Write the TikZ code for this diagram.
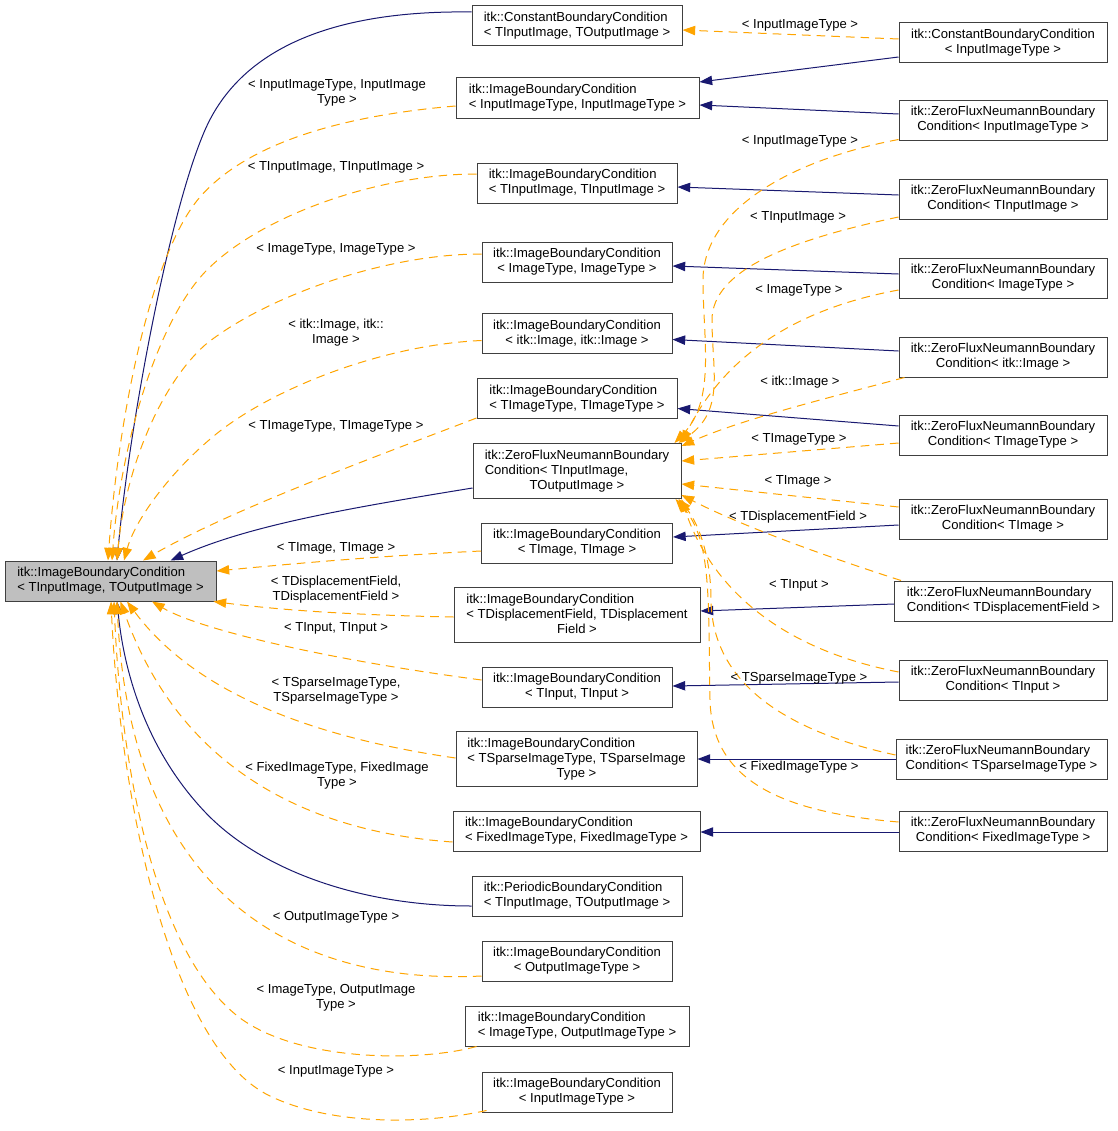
\documentclass[tikz,border=0pt]{standalone}
\usepackage{fontspec}
\setmainfont{Liberation Sans}
\usetikzlibrary{arrows.meta,calc}
\definecolor{navyc}{HTML}{191970}
\definecolor{orangec}{HTML}{FFA500}
\definecolor{boxline}{HTML}{404040}
\definecolor{rootfill}{HTML}{BFBFBF}
\newcommand\gfont{\fontsize{9.8}{11.25}\selectfont}
\newcommand\boxtxt[2]{\begin{tabular}{@{}l@{}}#1\\\multicolumn{1}{@{}c@{}}{#2}\end{tabular}}
\begin{document}
\begin{tikzpicture}[x=0.75pt,y=-0.75pt,
  cls/.style 2 args={draw=boxline, line width=0.75pt, fill=white, inner sep=0pt, font=\gfont,
    minimum width=#1*0.75pt, minimum height=#2*0.75pt},
  rootcls/.style 2 args={cls={#1}{#2}, fill=rootfill},
  inh/.style={draw=navyc, line width=0.75pt, -{Triangle[length=9.5pt,width=7pt]}},
  tpl/.style={draw=orangec, line width=0.75pt, dash pattern=on 6.5pt off 4.5pt, -{Triangle[length=9.5pt,width=7pt]}},
  elbl/.style={font=\gfont, align=center, inner sep=0pt}
]
\fill[white] (0,0) rectangle (1117,1131);
\useasboundingbox (0,0) rectangle (1117,1131);

% ---------- nodes ----------
\node[rootcls={211}{40}] (root) at (110.5,581) {\boxtxt{itk::ImageBoundaryCondition}{< TInputImage, TOutputImage >}};

\node[cls={210}{40}] (n1) at (577,26) {\boxtxt{itk::ConstantBoundaryCondition}{< TInputImage, TOutputImage >}};
\node[cls={243}{40}] (n2) at (577.5,98) {\boxtxt{itk::ImageBoundaryCondition}{< InputImageType, InputImageType >}};
\node[cls={200}{40}] (n3) at (577,183) {\boxtxt{itk::ImageBoundaryCondition}{< TInputImage, TInputImage >}};
\node[cls={190}{40}] (n4) at (577,262) {\boxtxt{itk::ImageBoundaryCondition}{< ImageType, ImageType >}};
\node[cls={190}{40}] (n5) at (577,333.5) {\boxtxt{itk::ImageBoundaryCondition}{< itk::Image, itk::Image >}};
\node[cls={200}{40}] (n6) at (577,398.5) {\boxtxt{itk::ImageBoundaryCondition}{< TImageType, TImageType >}};
\node[cls={208}{55}] (n7) at (577,471) {\boxtxt{itk::ZeroFluxNeumannBoundary\\Condition< TInputImage,}{TOutputImage >}};
\node[cls={191}{40}] (n8) at (577,543) {\boxtxt{itk::ImageBoundaryCondition}{< TImage, TImage >}};
\node[cls={246}{55}] (n9) at (577,615) {\boxtxt{itk::ImageBoundaryCondition\\< TDisplacementField, TDisplacement}{Field >}};
\node[cls={190}{40}] (n10) at (577,687) {\boxtxt{itk::ImageBoundaryCondition}{< TInput, TInput >}};
\node[cls={241}{55}] (n11) at (576.5,759) {\boxtxt{itk::ImageBoundaryCondition\\< TSparseImageType, TSparseImage}{Type >}};
\node[cls={247}{40}] (n12) at (576.5,831) {\boxtxt{itk::ImageBoundaryCondition}{< FixedImageType, FixedImageType >}};
\node[cls={210}{40}] (n13) at (577,896) {\boxtxt{itk::PeriodicBoundaryCondition}{< TInputImage, TOutputImage >}};
\node[cls={190}{40}] (n14) at (577,961) {\boxtxt{itk::ImageBoundaryCondition}{< OutputImageType >}};
\node[cls={224}{40}] (n15) at (577,1026) {\boxtxt{itk::ImageBoundaryCondition}{< ImageType, OutputImageType >}};
\node[cls={190}{40}] (n16) at (577,1092) {\boxtxt{itk::ImageBoundaryCondition}{< InputImageType >}};

\node[cls={208}{40}] (r1) at (1003,43) {\boxtxt{itk::ConstantBoundaryCondition}{< InputImageType >}};
\node[cls={208}{40}] (r2) at (1003,120) {\boxtxt{itk::ZeroFluxNeumannBoundary}{Condition< InputImageType >}};
\node[cls={208}{40}] (r3) at (1003,199) {\boxtxt{itk::ZeroFluxNeumannBoundary}{Condition< TInputImage >}};
\node[cls={208}{40}] (r4) at (1003,278) {\boxtxt{itk::ZeroFluxNeumannBoundary}{Condition< ImageType >}};
\node[cls={208}{40}] (r5) at (1003,357) {\boxtxt{itk::ZeroFluxNeumannBoundary}{Condition< itk::Image >}};
\node[cls={208}{40}] (r6) at (1003,435) {\boxtxt{itk::ZeroFluxNeumannBoundary}{Condition< TImageType >}};
\node[cls={208}{40}] (r7) at (1003,519) {\boxtxt{itk::ZeroFluxNeumannBoundary}{Condition< TImage >}};
\node[cls={218}{40}] (r8) at (1003.5,601) {\boxtxt{itk::ZeroFluxNeumannBoundary}{Condition< TDisplacementField >}};
\node[cls={208}{40}] (r9) at (1003,680) {\boxtxt{itk::ZeroFluxNeumannBoundary}{Condition< TInput >}};
\node[cls={211}{40}] (r10) at (1001.5,759) {\boxtxt{itk::ZeroFluxNeumannBoundary}{Condition< TSparseImageType >}};
\node[cls={208}{40}] (r11) at (1003,831) {\boxtxt{itk::ZeroFluxNeumannBoundary}{Condition< FixedImageType >}};

% ---------- navy inheritance to root ----------
\draw[inh] ($(n1.west)+(0,-14)$) .. controls (330,10) and (240,50) .. (205,130)
  .. controls (170,210) and (130,420) .. ($(root.north)+(6.5,0)$);
\draw[inh] ($(n7.west)+(0,17)$) .. controls (350,508) and (250,525) .. ($(root.north east)+(-46,0)$);
\draw[inh] ($(n13.west)+(0,10)$) .. controls (360,906) and (260,870) .. (205,812)
  .. controls (150,754) and (125,680) .. ($(root.south)+(6.5,0)$);

% ---------- navy right ----------
\draw[inh] ($(r1.west)+(0,14)$) -- ($(n2.east)+(0,-16)$);
\draw[inh] ($(r2.west)+(0,-6)$) -- ($(n2.east)+(0,7)$);
\draw[inh] ($(r3.west)+(0,-4)$) -- ($(n3.east)+(0,4)$);
\draw[inh] ($(r4.west)+(0,-4)$) -- ($(n4.east)+(0,4)$);
\draw[inh] ($(r5.west)+(0,-6)$) -- ($(n5.east)+(0,6)$);
\draw[inh] ($(r6.west)+(0,-9)$) -- ($(n6.east)+(0,10)$);
\draw[inh] ($(r7.west)+(0,6)$) -- ($(n8.east)+(0,-6)$);
\draw[inh] ($(r8.west)+(0,3)$) -- ($(n9.east)+(0,-4)$);
\draw[inh] ($(r9.west)+(0,2)$) -- ($(n10.east)+(0,-1)$);
\draw[inh] (r10.west) -- (n11.east);
\draw[inh] ($(r11.west)+(0,1)$) -- ($(n12.east)+(0,1)$);

% ---------- orange right ----------
\draw[tpl] ($(r1.west)+(0,-4)$) -- ($(n1.east)+(0,4)$);
\node[elbl] (lr1) at (800,25) {< InputImageType >};

\draw[tpl] ($(r2.south west)+(0,-1)$) .. controls (790,160) and (703,210) .. (703,280)
  .. controls (703,340) and (716,400) .. ($(n7.north east)+(-7,0)$);
\node[elbl] (lr2) at (800,141) {< InputImageType >};

\draw[tpl] ($(r3.west)+(0,18)$) .. controls (790,240) and (712,270) .. (712,320)
  .. controls (712,370) and (725,410) .. ($(n7.north east)+(-3,0)$);
\node[elbl] (lr3) at (798,217) {< TInputImage >};

\draw[tpl] ($(r4.west)+(0,12)$) .. controls (790,310) and (722,360) .. (n7.north east);
\node[elbl] (lr4) at (799,290) {< ImageType >};

\draw[tpl] ($(r5.south west)+(6,0)$) .. controls (820,400) and (740,420) .. ($(n7.north east)+(0,3)$);
\node[elbl] (lr5) at (800,382) {< itk::Image >};

\draw[tpl] ($(r6.west)+(0,8)$) -- ($(n7.east)+(0,-10)$);
\node[elbl] (lr6) at (799,439) {< TImageType >};

\draw[tpl] ($(r7.west)+(0,-12)$) -- ($(n7.east)+(0,13)$);
\node[elbl] (lr7) at (798,481) {< TImage >};

\draw[tpl] ($(r8.north west)+(7,0)$) .. controls (800,548) and (730,520) .. ($(n7.south east)+(0,-4)$);
\node[elbl] (lr8) at (798,517) {< TDisplacementField >};

\draw[tpl] ($(r9.west)+(0,-8)$) .. controls (760,645) and (705,570) .. (n7.south east);
\node[elbl] (lr9) at (799,585) {< TInput >};

\draw[tpl] ($(r10.west)+(0,-4)$) .. controls (780,730) and (712,680) .. (711,600)
  .. controls (711,560) and (700,525) .. ($(n7.south east)+(-3,0)$);
\node[elbl] (lr10) at (799,678) {< TSparseImageType >};

\draw[tpl] ($(r11.west)+(0,-9)$) .. controls (780,812) and (712,780) .. (710,700)
  .. controls (708,600) and (712,540) .. ($(n7.south east)+(-6,0)$);
\node[elbl] (lr11) at (799,767) {< FixedImageType >};

% ---------- orange left (to root) ----------
\draw[tpl] ($(n2.west)+(0,8)$) .. controls (350,115) and (250,140) .. (200,197)
  .. controls (150,255) and (118,420) .. ($(root.north)+(-2.5,0)$);
\node[elbl] (l2) at (337,93) {< InputImageType, InputImage\\Type >};

\draw[tpl] ($(n3.west)+(0,-9)$) .. controls (380,174) and (260,215) .. (205,272)
  .. controls (155,325) and (120,450) .. ($(root.north)+(1.5,0)$);
\node[elbl] (l3) at (336,167) {< TInputImage, TInputImage >};

\draw[tpl] ($(n4.west)+(0,-8)$) .. controls (380,254) and (260,300) .. (205,345)
  .. controls (160,385) and (125,470) .. ($(root.north)+(6.5,0)$);
\node[elbl] (l4) at (336,249) {< ImageType, ImageType >};

\draw[tpl] ($(n5.west)+(0,7)$) .. controls (380,345) and (270,390) .. (215,435)
  .. controls (170,472) and (135,520) .. ($(root.north)+(13.5,0)$);
\node[elbl] (l5) at (336,333) {< itk::Image, itk::\\Image >};

\draw[tpl] ($(n6.south west)+(0,-1)$) .. controls (380,455) and (230,510) .. ($(root.north)+(32.5,0)$);
\node[elbl] (l6) at (336,426) {< TImageType, TImageType >};

\draw[tpl] ($(n8.west)+(0,8)$) .. controls (380,556) and (300,563) .. ($(root.east)+(0,-10)$);
\node[elbl] (l8) at (336,548.5) {< TImage, TImage >};

\draw[tpl] ($(n9.west)+(0,2)$) .. controls (350,615) and (280,610) .. ($(root.south east)+(-3,0)$);
\node[elbl] (l9) at (336,590) {< TDisplacementField,\\TDisplacementField >};

\draw[tpl] ($(n10.west)+(0,-7)$) .. controls (330,660) and (200,630) .. ($(root.south)+(41.5,0)$);
\node[elbl] (l10) at (336,628.5) {< TInput, TInput >};

\draw[tpl] ($(n11.west)+(0,-1)$) .. controls (330,740) and (200,700) .. ($(root.south)+(16.5,0)$);
\node[elbl] (l11) at (336,691) {< TSparseImageType,\\TSparseImageType >};

\draw[tpl] ($(n12.west)+(0,11)$) .. controls (310,832) and (180,770) .. ($(root.south)+(10,0)$);
\node[elbl] (l12) at (337,776) {< FixedImageType, FixedImage\\Type >};

\draw[tpl] ($(n14.west)+(0,15)$) .. controls (300,985) and (130,900) .. ($(root.south)+(6.5,0)$);
\node[elbl] (l14) at (336,917) {< OutputImageType >};

\draw[tpl] ($(n15.south west)+(12,0)$) .. controls (420,1062) and (300,1062) .. (240,1018)
  .. controls (150,950) and (120,750) .. ($(root.south)+(3.5,0)$);
\node[elbl] (l15) at (336,998) {< ImageType, OutputImage\\Type >};

\draw[tpl] ($(n16.south west)+(5,-2)$) .. controls (420,1125) and (330,1125) .. (270,1096)
  .. controls (170,1048) and (120,800) .. ($(root.south)+(0.5,0)$);
\node[elbl] (l16) at (336,1071) {< InputImageType >};
\end{tikzpicture}
\end{document}
